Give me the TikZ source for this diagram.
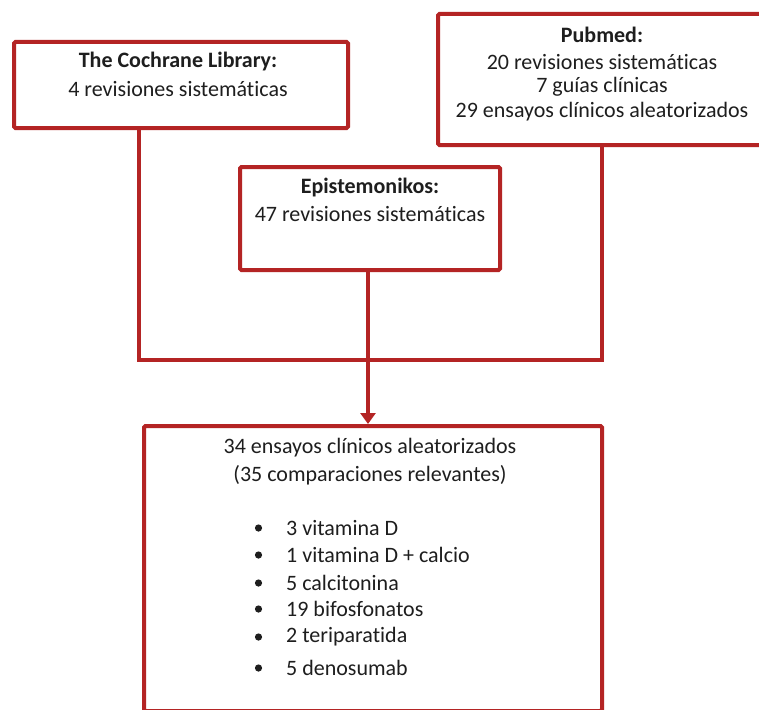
\documentclass[tikz,border=0pt]{standalone}
\usepackage{fontspec}
\setmainfont[Ligatures={NoCommon}]{Carlito}
\usetikzlibrary{arrows.meta}
\definecolor{boxred}{RGB}{180,36,36}
\definecolor{txt}{RGB}{30,30,30}
\begin{document}
\begin{tikzpicture}[x=1pt,y=-1pt,
  box/.style={draw=boxred,line width=4pt,rounded corners=1.5pt,fill=white,inner sep=0pt,anchor=north west},
  conn/.style={draw=boxred,line width=4pt},
  lbl/.style={text=txt,font=\fontsize{22}{26}\selectfont,inner sep=0pt,align=center},
  item/.style={text=txt,font=\fontsize{22}{26}\selectfont,inner sep=0pt,anchor=west}]
\clip (0,0) rectangle (759,709);
\fill[white] (0,0) rectangle (759,709);
% boxes
\node[box,minimum width=334pt,minimum height=86pt] (coch) at (12,40) {};
\node[box,minimum width=340pt,minimum height=131pt] (pub) at (436,12) {};
\node[box,minimum width=260pt,minimum height=103pt] (epi) at (238,165) {};
\node[box,minimum width=458pt,minimum height=285pt] (bot) at (142,424) {};
% connectors
\coordinate (j) at (368,360);
\draw[conn] (139,0 |- coch.south) -- (139,360) -- (602,360) -- (602,0 |- pub.south);
\draw[conn] (368,0 |- epi.south) -- (j);
\draw[conn,-{Triangle[width=15pt,length=11pt]}] (j) -- (368,0 |- bot.north);
% texts
\node[lbl] (t1a) at (178,62) {\textbf{The Cochrane Library:}};
\node[lbl] (t1b) at (178,89) {4 revisiones sistemáticas};
\node[lbl] (t2a) at (602,35) {\textbf{Pubmed:}};
\node[lbl] (t2b) at (602,62) {20 revisiones sistemáticas};
\node[lbl] (t2c) at (602,87) {7 guías clínicas};
\node[lbl] (t2d) at (602,112) {29 ensayos clínicos aleatorizados};
\node[lbl] (t3a) at (370,188) {\textbf{Epistemonikos:}};
\node[lbl] (t3b) at (370,214) {47 revisiones sistemáticas};
\node[lbl] (t4a) at (370,448) {34 ensayos clínicos aleatorizados};
\node[lbl] (t4b) at (370,475) {(35 comparaciones relevantes)};
\foreach \y/\t [count=\i] in {528/3 vitamina D, 555/1 vitamina D + calcio, 583/5 calcitonina, 609/19 bifosfonatos, 637/2 teriparatida, 668/5 denosumab}{
  \fill[txt] (258.5,\y) circle (3.6pt);
  \node[item] (it\i) at (286,\y) {\t};
}
\end{tikzpicture}
\end{document}
